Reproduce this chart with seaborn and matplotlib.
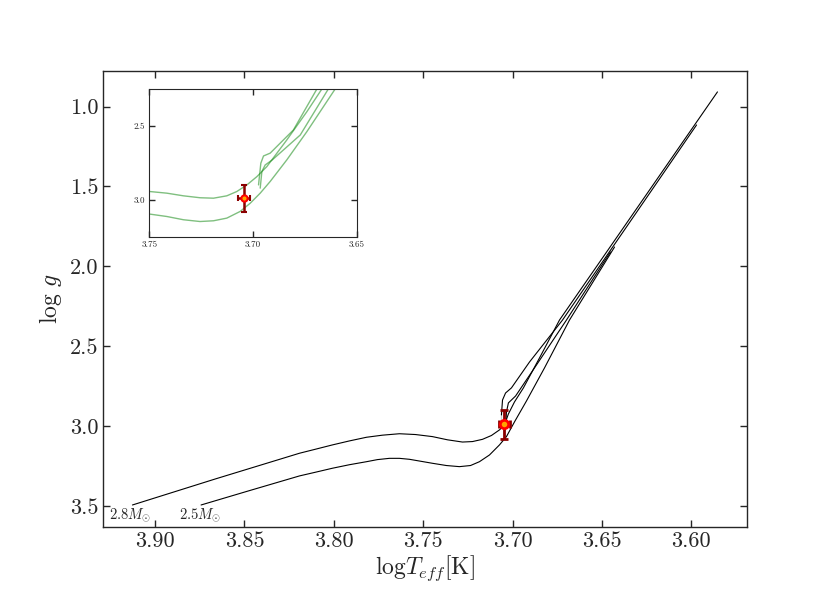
import numpy as np
import pandas as pd
import seaborn as sns
import matplotlib
matplotlib.use("Agg")
import matplotlib.pyplot as plt

# evolutionary tracks (logTeff, logg)
# 2.8 Msun: pre-RGB + first ascent to the tip
t28_teff = [3.9127, 3.8663, 3.8192, 3.8103, 3.8008, 3.7913, 3.7817, 3.7728, 3.7633,
            3.7543, 3.7448, 3.7364, 3.7280, 3.7224, 3.7168, 3.7118, 3.7073, 3.7045,
            3.7023, 3.6989, 3.6939, 3.6843, 3.6737, 3.5853]
t28_logg = [3.494, 3.331, 3.170, 3.145, 3.118, 3.093, 3.070, 3.057, 3.048,
            3.053, 3.066, 3.086, 3.100, 3.097, 3.083, 3.059, 3.024, 2.993,
            2.924, 2.849, 2.761, 2.561, 2.336, 0.908]
# 2.8 Msun: clump hook + second ascent
t28b_teff = [3.7062, 3.7062, 3.7056, 3.7039, 3.7006, 3.6905, 3.6720, 3.5970]
t28b_logg = [2.962, 2.899, 2.837, 2.793, 2.761, 2.599, 2.336, 1.115]

# 2.5 Msun
t25_teff = [3.8743, 3.8472, 3.8192, 3.8103, 3.8008, 3.7913, 3.7817, 3.7756, 3.7689,
            3.7633, 3.7577, 3.7515, 3.7448, 3.7370, 3.7297, 3.7235, 3.7185, 3.7129,
            3.7073, 3.7034, 3.6989, 3.6922, 3.6821, 3.6681, 3.6429]
t25_logg = [3.494, 3.404, 3.312, 3.289, 3.264, 3.242, 3.223, 3.210, 3.202,
            3.202, 3.208, 3.220, 3.233, 3.247, 3.254, 3.247, 3.223, 3.181,
            3.118, 3.066, 2.974, 2.843, 2.636, 2.336, 1.879]
t25b_teff = [3.7039, 3.7034, 3.7023, 3.6983, 3.6877, 3.6698, 3.6452]
t25b_logg = [3.012, 2.912, 2.855, 2.812, 2.636, 2.336, 1.910]

# inset tracks (green)
in1_teff = [3.7497, 3.7416, 3.7336, 3.7256, 3.7191, 3.7127, 3.7079, 3.7030, 3.6982,
            3.6934, 3.6838, 3.6741, 3.6669, 3.6600]
in1_logg = [2.944, 2.955, 2.973, 2.986, 2.989, 2.973, 2.944, 2.899, 2.843,
            2.775, 2.595, 2.403, 2.250, 2.100]
in2_teff = [3.7497, 3.7416, 3.7336, 3.7256, 3.7191, 3.7127, 3.7063, 3.7014, 3.6966,
            3.6918, 3.6838, 3.6741, 3.6605, 3.6540]
in2_logg = [3.097, 3.113, 3.135, 3.147, 3.142, 3.124, 3.079, 3.023, 2.955,
            2.876, 2.730, 2.538, 2.250, 2.100]
in3_teff = [3.6974, 3.6963, 3.6950, 3.6918, 3.6806, 3.6693, 3.6620]
in3_logg = [2.899, 2.752, 2.703, 2.684, 2.527, 2.250, 2.100]
in4_teff = [3.6966, 3.6958, 3.6942, 3.6908, 3.6773, 3.6638, 3.6570]
in4_logg = [2.921, 2.809, 2.764, 2.730, 2.561, 2.250, 2.100]

# the star
star_teff, star_teff_err = 3.7045, 0.003
star_logg, star_logg_err = 2.99, 0.09

masses = [r'$2.8M_{\odot}$', r'$2.5M_{\odot}$']
mass_x = [3.9256, 3.8866]
mass_y = [3.557, 3.557]

sns.set_style("ticks")
plt.rcParams['font.family'] = 'serif'
plt.rcParams['font.serif'] = ['cmr10', 'DejaVu Serif']
plt.rcParams['mathtext.fontset'] = 'cm'
plt.rcParams['axes.formatter.use_mathtext'] = True

fig = plt.figure(figsize=(8.3, 5.93), dpi=100)
ax = fig.add_axes([0.1245, 0.1118, 0.775, 0.7685])

for tx, ty in [(t28_teff, t28_logg), (t28b_teff, t28b_logg),
               (t25_teff, t25_logg), (t25b_teff, t25b_logg)]:
    sns.lineplot(x=tx, y=ty, sort=False, color='k', lw=0.8, ax=ax)

for lab, mx, my in zip(masses, mass_x, mass_y):
    ax.text(mx, my, lab, fontsize=10.5, va='center', ha='left')

ax.errorbar(star_teff, star_logg, xerr=star_teff_err, yerr=star_logg_err, fmt='o',
            mfc='orange', mec='red', mew=2, ms=6, ecolor='darkred', elinewidth=2,
            capsize=3, capthick=2, zorder=5)

ax.set_xlim(3.929, 3.569)
ax.set_ylim(3.63, 0.777)
ax.set_xticks([3.90, 3.85, 3.80, 3.75, 3.70, 3.65, 3.60])
ax.set_yticks([1.0, 1.5, 2.0, 2.5, 3.0, 3.5])
ax.xaxis.set_major_formatter(matplotlib.ticker.FormatStrFormatter('%.2f'))
ax.yaxis.set_major_formatter(matplotlib.ticker.FormatStrFormatter('%.1f'))
ax.tick_params(direction='in', top=True, right=True, length=5, width=1, labelsize=16)
for s in ax.spines.values():
    s.set_linewidth(1)
ax.set_xlabel(r'$\mathrm{log}T_{eff}[\mathrm{K}]$', fontsize=17, labelpad=2)
ax.set_ylabel(r'$\mathrm{log}\ g$', fontsize=17, labelpad=4)

# inset
axin = fig.add_axes([0.18, 0.6008, 0.25, 0.249])
for tx, ty in [(in1_teff, in1_logg), (in2_teff, in2_logg),
               (in3_teff, in3_logg), (in4_teff, in4_logg)]:
    sns.lineplot(x=tx, y=ty, sort=False, color='green', alpha=0.5, lw=1, ax=axin)
axin.errorbar(star_teff, star_logg, xerr=star_teff_err, yerr=star_logg_err, fmt='o',
              mfc='orange', mec='red', mew=1.5, ms=4.5, ecolor='darkred', elinewidth=1.8,
              capsize=2.5, capthick=1.8, zorder=5)
axin.set_xlim(3.75, 3.65)
axin.set_ylim(3.25, 2.25)
axin.set_xticks([3.75, 3.70, 3.65])
axin.set_yticks([2.5, 3.0])
axin.xaxis.set_major_formatter(matplotlib.ticker.FormatStrFormatter('%.2f'))
axin.yaxis.set_major_formatter(matplotlib.ticker.FormatStrFormatter('%.1f'))
axin.tick_params(direction='in', top=True, right=True, length=4, width=1, labelsize=6.5, pad=3)

fig.savefig("out.png", dpi=100)
